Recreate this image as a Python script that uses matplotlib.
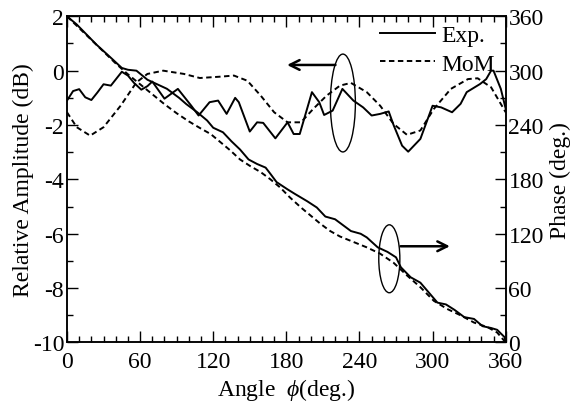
import numpy as np
import matplotlib
matplotlib.use("Agg")
import matplotlib.pyplot as plt
from matplotlib.patches import Ellipse
from matplotlib.ticker import MultipleLocator, FuncFormatter

plt.rcParams['font.family'] = ['Liberation Serif', 'DejaVu Serif']
plt.rcParams['mathtext.fontset'] = 'custom'
plt.rcParams['mathtext.it'] = 'Liberation Serif:italic'
plt.rcParams['axes.unicode_minus'] = False

# measured amplitude (dB)
amp_exp_ang = [0, 5, 10, 15, 20, 25, 30, 36, 45, 50, 55, 61, 66, 70, 80, 91, 102, 108,
               117, 124, 131, 138, 141, 150, 156, 161, 171, 181, 186, 191, 201, 207, 211,
               218, 226, 235, 243, 250, 257, 264, 268, 275, 280, 290, 300, 307, 316, 323,
               328, 339, 344, 348, 350, 356, 360]
amp_exp = [-1.1, -0.75, -0.68, -0.98, -1.08, -0.8, -0.5, -0.55, -0.04, -0.18, -0.45,
           -0.7, -0.57, -0.4, -1.03, -0.67, -1.29, -1.65, -1.16, -1.1, -1.59, -1.0, -1.16,
           -2.24, -1.9, -1.92, -2.49, -1.9, -2.33, -2.33, -0.79, -1.16, -1.63, -1.47,
           -0.67, -1.1, -1.35, -1.65, -1.59, -1.5, -2.0, -2.76, -2.98, -2.51, -1.29,
           -1.35, -1.53, -1.22, -0.79, -0.49, -0.31, 0.0, 0.0, -0.67, -1.4]

# MoM amplitude (dB)
amp_mom_ang = [0, 8, 19, 30, 44, 57, 66, 79, 96, 109, 126, 137, 148, 159, 170, 181, 192,
               202, 213, 224, 233, 246, 257, 268, 279, 290, 301, 315, 329, 337, 348, 360]
amp_mom = [-1.53, -2.08, -2.39, -2.08, -1.29, -0.43, -0.12, 0.0, -0.12, -0.27, -0.22,
           -0.18, -0.37, -0.92, -1.53, -1.9, -1.9, -1.41, -0.92, -0.55, -0.45, -0.79,
           -1.29, -1.96, -2.36, -2.2, -1.41, -0.67, -0.31, -0.28, -0.61, -1.53]

# measured phase (deg.)
ph_exp_ang = [0, 8, 16, 24, 37, 45, 50, 57, 66, 74, 82, 92, 98, 107, 115, 120, 128, 135,
              142, 149, 156, 163, 167, 172, 181, 187, 197, 205, 212, 220, 226, 233, 241,
              246, 255, 263, 270, 274, 282, 290, 297, 304, 311, 318, 326, 334, 341, 348,
              353, 359, 360]
ph_exp = [360, 351, 340, 329, 313, 303, 301, 300, 290, 285, 280, 270, 263, 254, 245, 237,
          232, 222, 213, 202, 197, 193, 186, 177, 169, 164, 156, 149, 139, 136, 130, 123,
          120, 116, 105, 100, 94, 83, 72, 66, 55, 44, 42, 36, 28, 26, 18, 16, 14, 6, 0]

# MoM phase (deg.)
ph_mom_ang = [0, 10, 20, 30, 40, 50, 60, 70, 80, 90, 100, 110, 118, 126, 134, 142, 150,
              159, 167, 175, 183, 192, 200, 208, 216, 224, 235, 246, 257, 268, 279, 290,
              301, 312, 323, 334, 345, 353, 360]
ph_mom = [360, 347, 334, 321, 308, 296, 285, 274, 263, 253, 244, 236, 230, 221, 212, 202,
          195, 188, 180, 171, 160, 149, 140, 131, 123, 117, 111, 105, 98, 88, 74, 61, 46,
          37, 30, 22, 17, 11, 0]

fig = plt.figure(figsize=(5.74, 4.14), dpi=100)
ax = fig.add_axes([0.1167, 0.1703, 0.7643, 0.7879])
ax2 = ax.twinx()

dash = (0, (2.8, 1.8))
ax.plot(amp_exp_ang, amp_exp, color='black', lw=1.4, label='Exp.')
ax.plot(amp_mom_ang, amp_mom, color='black', lw=1.4, ls=dash, label='MoM')
ax2.plot(ph_exp_ang, ph_exp, color='black', lw=1.4)
ax2.plot(ph_mom_ang, ph_mom, color='black', lw=1.4, ls=dash)

ax.set_xlim(0, 360)
ax.set_ylim(-10, 2)
ax2.set_ylim(0, 360)

ax.xaxis.set_major_locator(MultipleLocator(60))
ax.xaxis.set_minor_locator(MultipleLocator(10))
ax.yaxis.set_major_locator(MultipleLocator(2))
ax.yaxis.set_minor_locator(MultipleLocator(1))
ax2.yaxis.set_major_locator(MultipleLocator(60))
ax2.yaxis.set_minor_locator(MultipleLocator(30))
ax.yaxis.set_major_formatter(FuncFormatter(lambda v, p: '%d' % v))

fs = 17
ax.tick_params(which='both', direction='in', top=True, labelsize=fs, pad=2)
ax.tick_params(axis='x', which='both', pad=6)
ax.tick_params(which='major', length=8, width=1)
ax.tick_params(which='minor', length=4.5, width=1)
ax2.tick_params(which='both', direction='in', labelsize=fs, pad=2)
ax2.tick_params(which='major', length=8, width=1)
ax2.tick_params(which='minor', length=4.5, width=1)
for a in (ax, ax2):
    for s in a.spines.values():
        s.set_linewidth(1.1)

ax.set_xlabel(r'Angle  $\phi$(deg.)', fontsize=fs, labelpad=3)
ax.set_ylabel('Relative Amplitude (dB)', fontsize=fs, labelpad=-1)
ax2.set_ylabel('Phase (deg.)', fontsize=fs, labelpad=4)

# ellipses and arrows
ax.add_patch(Ellipse((226.4, -1.19), 20.5, 3.6, fill=False, lw=1, color='black'))
ax.annotate('', xy=(180.6, 0.21), xytext=(220.3, 0.21),
            arrowprops=dict(arrowstyle='->,head_length=0.7,head_width=0.35',
                            color='black', lw=1.8, shrinkA=0, shrinkB=0))
ax.add_patch(Ellipse((264.5, -6.92), 17.3, 2.5, fill=False, lw=1, color='black'))
ax.annotate('', xy=(314.2, -6.46), xytext=(273.7, -6.46),
            arrowprops=dict(arrowstyle='->,head_length=0.7,head_width=0.35',
                            color='black', lw=1.8, shrinkA=0, shrinkB=0))

ax.legend(loc='upper right', frameon=False, fontsize=fs, handlelength=2.35,
          handletextpad=0.25, borderaxespad=0.0, borderpad=0.0, labelspacing=0.3,
          bbox_to_anchor=(0.975, 0.975))

fig.savefig('out.png', dpi=100)
